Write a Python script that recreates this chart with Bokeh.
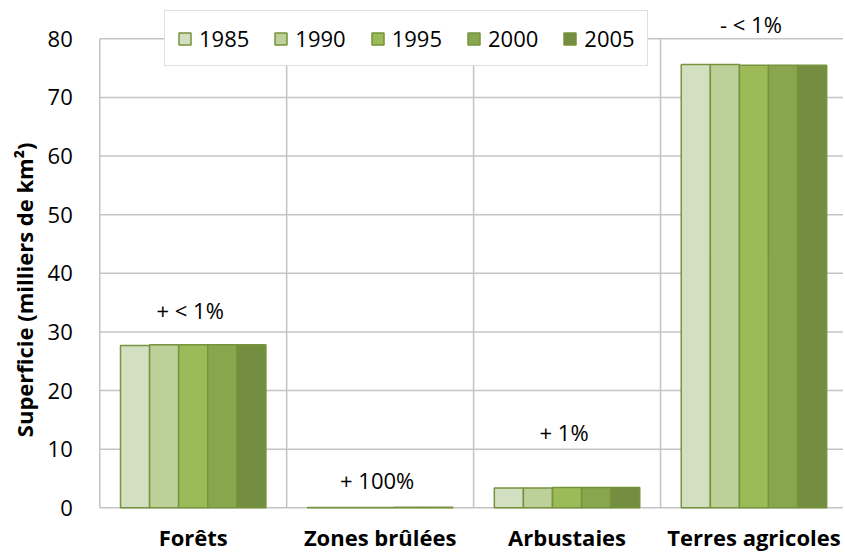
import math
from bokeh.plotting import figure
from bokeh.models import (ColumnDataSource, Legend, LegendItem, LabelSet, Label,
                          Range1d)
from bokeh.core.properties import value
from bokeh.embed import file_html
from bokeh.resources import INLINE

categories = ["Forêts", "Zones brûlées", "Arbustaies", "Terres agricoles"]
years = ["1985", "1990", "1995", "2000", "2005"]
# values in thousands of km², per year, for each category
v1985 = [27.7, 0.05, 3.4, 75.6]
v1990 = [27.8, 0.06, 3.4, 75.6]
v1995 = [27.8, 0.07, 3.45, 75.5]
v2000 = [27.8, 0.08, 3.45, 75.5]
v2005 = [27.8, 0.10, 3.45, 75.5]
changes = ["+ < 1%", "+ 100%", "+ 1%", "- < 1%"]
change_label_y = [33.8, 4.8, 13.0, 82.6]
y_ticks = [0, 10, 20, 30, 40, 50, 60, 70, 80]
y_title = "Superficie (milliers de km²)"

colors = ["#D3DFC1", "#BCD09A", "#9BBB59", "#88A64E", "#738E40"]
outline = "#77933C"
grid_col = "#C4C4C4"
FONT = "Open Sans"

series = [v1985, v1990, v1995, v2000, v2005]
n = len(categories)
bar_w = 0.1556
y_top = y_ticks[-1]

# the frame fills the whole figure; axes texts are drawn as labels
p = figure(width=843, height=552, output_backend="svg", toolbar_location=None,
           x_range=Range1d(-0.531, 3.979), y_range=Range1d(-7.62, 86.53),
           min_border_left=0, min_border_right=0, min_border_top=0,
           min_border_bottom=0)
p.outline_line_color = None
p.background_fill_color = "white"
p.border_fill_color = "white"
p.xaxis.visible = False
p.yaxis.visible = False
p.xgrid.visible = False
p.ygrid.visible = False

# horizontal gridlines (0..80) across the plot area
p.segment(x0=[0] * len(y_ticks), y0=y_ticks, x1=[n] * len(y_ticks), y1=y_ticks,
          line_color=grid_col, line_width=1.5, level="underlay")
# vertical axis line and separators between categories
bounds = list(range(0, n + 1))
p.segment(x0=bounds, y0=[0] * len(bounds), x1=bounds, y1=[y_top] * len(bounds),
          line_color=grid_col, line_width=1.5, level="underlay")

centers = [i + 0.5 for i in range(n)]
renderers = []
for j, vals in enumerate(series):
    xs = [c + (j - 2) * bar_w for c in centers]
    src = ColumnDataSource(dict(x=xs, top=vals))
    r = p.vbar(x="x", top="top", width=bar_w, bottom=0, source=src,
               fill_color=colors[j], line_color=outline, line_width=1.5)
    renderers.append(r)

# y tick labels
tsrc = ColumnDataSource(dict(x=[0] * len(y_ticks), y=y_ticks, t=[str(t) for t in y_ticks]))
p.add_layout(LabelSet(x="x", y="y", text="t", source=tsrc, text_align="right",
                      text_baseline="middle", x_offset=-27, text_font=value(FONT),
                      text_font_size="22px", text_color="#000000"))

# y axis title
p.add_layout(Label(x=0, y=0, x_offset=-76, y_offset=218, text=y_title,
                   angle=math.pi / 2, text_align="center", text_baseline="middle",
                   text_font=FONT, text_font_style="bold", text_font_size="22px",
                   text_color="#000000"))

# change labels
lsrc = ColumnDataSource(dict(x=centers, y=change_label_y, t=changes))
p.add_layout(LabelSet(x="x", y="y", text="t", source=lsrc, text_align="center",
                      text_baseline="middle", x_offset=-3, text_font=value(FONT),
                      text_font_size="22px", text_color="#000000"))

# category labels under the axis
csrc = ColumnDataSource(dict(x=centers, y=[0] * n, t=categories))
p.add_layout(LabelSet(x="x", y="y", text="t", source=csrc, text_align="center",
                      text_baseline="alphabetic", y_offset=-38, text_font=value(FONT),
                      text_font_style="bold", text_font_size="22px",
                      text_color="#000000"))

legend = Legend(items=[LegendItem(label=y, renderers=[r]) for y, r in zip(years, renderers)],
                orientation="horizontal", location=(164, 486))
legend.label_text_font = FONT
legend.label_text_font_size = "22px"
legend.label_text_color = "#000000"
legend.glyph_width = 15
legend.glyph_height = 15
legend.label_standoff = 7
legend.spacing = 24
legend.padding = 12
legend.margin = 0
legend.border_line_color = "#BFBFBF"
legend.border_line_width = 1.5
legend.background_fill_color = "white"
legend.background_fill_alpha = 1.0
p.add_layout(legend, "center")

open("out.html", "w").write(file_html(p, INLINE))
